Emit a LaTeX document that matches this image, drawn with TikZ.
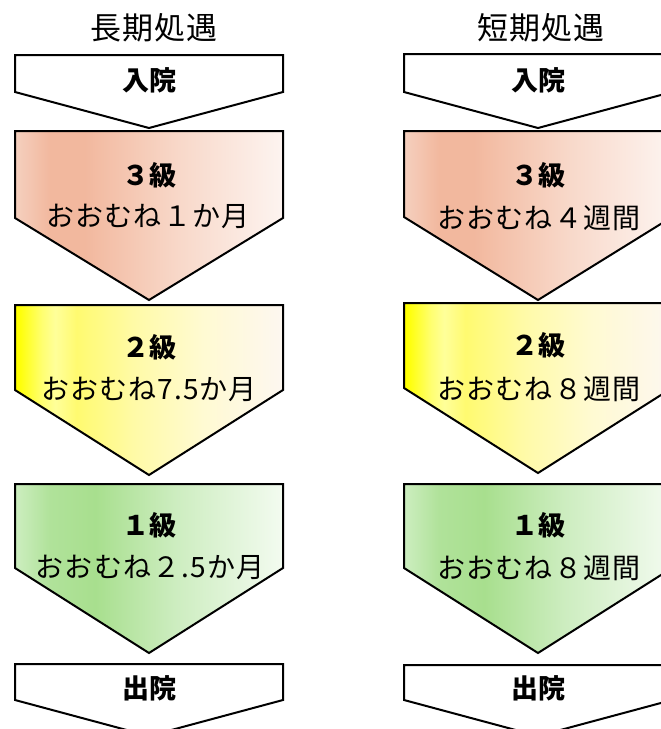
\documentclass[tikz,border=0pt]{standalone}
\usepackage{fontspec}
\newfontfamily\jp{Noto Sans CJK JP}
\newfontfamily\jpsp[LetterSpace=4]{Noto Sans CJK JP}
\definecolor{sa0}{HTML}{F5D0BF}
\definecolor{sa1}{HTML}{F2B89E}
\definecolor{sa2}{HTML}{F8D8C9}
\definecolor{sa3}{HTML}{FDF4F0}
\definecolor{ye0}{HTML}{FFFF00}
\definecolor{ye1}{HTML}{FFFF70}
\definecolor{ye2}{HTML}{FFFF9A}
\definecolor{ye3}{HTML}{FFFA70}
\definecolor{ye4}{HTML}{FFFAA8}
\definecolor{ye5}{HTML}{FFFAD2}
\definecolor{ye6}{HTML}{FDF7F0}
\definecolor{gr0}{HTML}{CDEEC0}
\definecolor{gr1}{HTML}{B0E29A}
\definecolor{gr2}{HTML}{A8DF8E}
\definecolor{gr3}{HTML}{CDEDC0}
\definecolor{gr4}{HTML}{F3FBF0}
\pgfdeclarehorizontalshading{salmonshade}{100bp}{color(0bp)=(sa0); color(25bp)=(sa0); color(31.5bp)=(sa1); color(38bp)=(sa1); color(55.5bp)=(sa2); color(75bp)=(sa3); color(100bp)=(sa3)}
\pgfdeclarehorizontalshading{yellowshade}{100bp}{color(0bp)=(ye0); color(25.5bp)=(ye0); color(30bp)=(ye1); color(32.5bp)=(ye2); color(36.5bp)=(ye3); color(47.5bp)=(ye4); color(60bp)=(ye5); color(75bp)=(ye6); color(100bp)=(ye6)}
\pgfdeclarehorizontalshading{greenshade}{100bp}{color(0bp)=(gr0); color(25bp)=(gr0); color(31.5bp)=(gr1); color(40bp)=(gr2); color(55bp)=(gr3); color(75bp)=(gr4); color(100bp)=(gr4)}
\newcommand\chevbox[6]{%
  \path[#6] (#1,#3) -- (#2,#3) -- (#2,#4) -- ({(#1+#2)/2},#5) -- (#1,#4) -- cycle;}
\tikzset{
  chev/.style={draw=black, line width=2pt, line join=miter},
  whitechev/.style={chev, fill=white},
  lvlthree/.style={chev, shade, shading=salmonshade},
  lvltwo/.style={chev, shade, shading=yellowshade},
  lvlone/.style={chev, shade, shading=greenshade},
  coltitle/.style={font=\jpsp\fontsize{31}{36}\selectfont, inner sep=0pt},
  lab/.style={font=\jp\bfseries\fontsize{27}{32}\selectfont, inner sep=0pt},
  body/.style={font=\jpsp\fontsize{28}{32}\selectfont, inner sep=0pt},
}
\begin{document}
\begin{tikzpicture}[x=1pt, y=-1pt]
\useasboundingbox (0,0) rectangle (661,729);
\clip (0,0) rectangle (661,729);
\fill[white] (0,0) rectangle (661,729);
% left column
\chevbox{15}{283}{55}{92}{128}{whitechev}
\chevbox{15}{283}{131}{218}{300}{lvlthree}
\chevbox{15}{283}{305}{390}{475}{lvltwo}
\chevbox{15}{283}{484}{568}{653}{lvlone}
\chevbox{15}{283}{664}{700}{736}{whitechev}
% right column
\chevbox{404}{672}{54}{92}{128}{whitechev}
\chevbox{404}{672}{131}{217}{300}{lvlthree}
\chevbox{404}{672}{303}{388}{473}{lvltwo}
\chevbox{404}{672}{484}{568}{653}{lvlone}
\chevbox{404}{672}{665}{700}{736}{whitechev}
% titles
\node[coltitle] (tl) at (154,28) {長期処遇};
\node[coltitle] (tr) at (541,28) {短期処遇};
% left texts
\node[lab] (inL) at (149,80) {入院};
\node[lab] (l3L) at (149,175) {３級};
\node[body] (b3L) at (148,216) {おおむね１か月};
\node[lab] (l2L) at (149,347) {２級};
\node[body] (b2L) at (149,389) {おおむね7.5か月};
\node[lab] (l1L) at (149,525) {１級};
\node[body] (b1L) at (150,567) {おおむね２.5か月};
\node[lab] (outL) at (149,688) {出院};
% right texts
\node[lab] (inR) at (538,80) {入院};
\node[lab] (l3R) at (538,175) {３級};
\node[body] (b3R) at (539,218) {おおむね４週間};
\node[lab] (l2R) at (538,345) {２級};
\node[body] (b2R) at (539,389) {おおむね８週間};
\node[lab] (l1R) at (538,525) {１級};
\node[body] (b1R) at (539,568) {おおむね８週間};
\node[lab] (outR) at (538,688) {出院};
\end{tikzpicture}
\end{document}
